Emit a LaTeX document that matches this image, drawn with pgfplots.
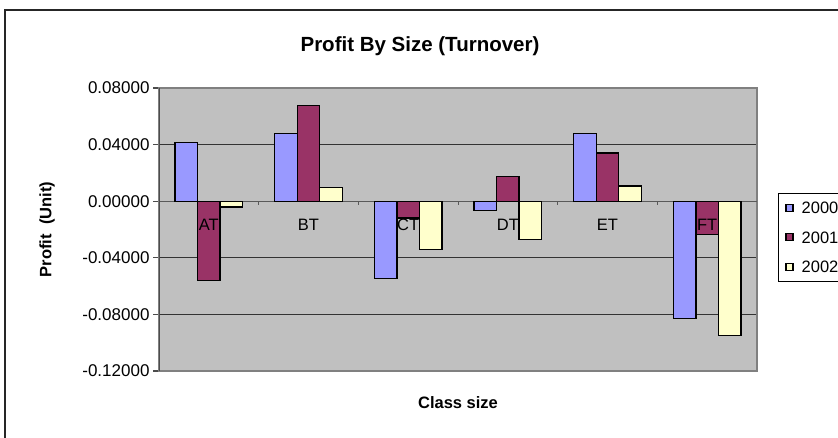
\documentclass[border=0pt]{standalone}
\usepackage{fontspec}
\setmainfont{Liberation Sans}
\usepackage{pgfplots}
\pgfplotsset{compat=1.18}
\definecolor{c2000}{HTML}{9999FF}
\definecolor{c2001}{HTML}{993366}
\definecolor{c2002}{HTML}{FFFFCC}
\definecolor{plotbg}{HTML}{C0C0C0}
\definecolor{edgegray}{HTML}{808080}

\begin{document}
\begin{tikzpicture}[x=1pt,y=1pt]
  \useasboundingbox (0,0) rectangle (838,437);
  % outer chart frame (runs off the right and bottom edges)
  \draw[line width=1.3pt, black!85] (5,-20) -- (5,427) -- (860,427);
  \node[font=\fontsize{20.5}{24}\selectfont\bfseries] at (420,391) {Profit By Size (Turnover)};
  \node[font=\fontsize{16.5}{19}\selectfont\bfseries, rotate=90] at (47,207.5) {Profit\ \ (Unit)};
  \node[font=\fontsize{16.5}{19}\selectfont\bfseries] at (458,34) {Class size};
  \begin{axis}[
    at={(159pt,66pt)}, anchor=south west,
    scale only axis, width=598pt, height=283pt,
    xmin=-0.5, xmax=5.5, ymin=-0.12, ymax=0.08,
    xtick=\empty,
    ytick={-0.12,-0.08,-0.04,0,0.04,0.08},
    yticklabels={-0.12000,-0.08000,-0.04000,0.00000,0.04000,0.08000},
    ytick pos=left, tick align=outside, major tick length=6pt,
    ytick style={draw=black!70, line width=1.2pt},
    yticklabel style={font=\fontsize{17}{20}\selectfont},
    /pgf/number format/assume math mode=true,
    ymajorgrids, grid style={draw=black!80, line width=1pt},
    axis background/.style={fill=plotbg},
    axis line style={draw=edgegray, line width=1.5pt},
    ybar=0pt, bar width=22.5pt,
    legend image code/.code={\draw[#1] (0pt,-3.5pt) rectangle (7pt,3.5pt);},
    legend style={at={(1.0351,0.629)}, anchor=north west, draw=black,
      line width=0.8pt, fill=white, inner xsep=7pt, inner ysep=8.5pt,
      row sep=17.7pt, column sep=8pt,
      font=\fontsize{16.5}{19}\selectfont,
      nodes={inner sep=0pt, text height=11.8pt, text depth=0pt}},
    legend cell align=left,
  ]
    \draw[black!65, line width=1.3pt] (axis cs:-0.5,0) -- (axis cs:5.5,0);
    \pgfplotsinvokeforeach{0.5,1.5,2.5,3.5,4.5}{
      \draw[black!65, line width=1pt] (axis cs:#1,0) -- ++(0pt,-4pt);}
    \draw[black!70, line width=1.8pt] (rel axis cs:0,0) -- (rel axis cs:0,1);
    \addplot[fill=c2000, draw=black, line width=1.3pt]
      coordinates {(0,0.0415) (1,0.048) (2,-0.0544) (3,-0.0066) (4,0.048) (5,-0.0828)};
    \addlegendentry{2000\hspace*{30pt}}
    \addplot[fill=c2001, draw=black, line width=1.3pt]
      coordinates {(0,-0.0558) (1,0.0676) (2,-0.0118) (3,0.0175) (4,0.034) (5,-0.0233)};
    \addlegendentry{2001\hspace*{30pt}}
    \node[font=\fontsize{16.5}{19}\selectfont, yshift=-24pt] at (axis cs:0,0) {AT};
    \node[font=\fontsize{16.5}{19}\selectfont, yshift=-24pt] at (axis cs:1,0) {BT};
    \node[font=\fontsize{16.5}{19}\selectfont, yshift=-24pt] at (axis cs:2,0) {CT};
    \node[font=\fontsize{16.5}{19}\selectfont, yshift=-24pt] at (axis cs:3,0) {DT};
    \node[font=\fontsize{16.5}{19}\selectfont, yshift=-24pt] at (axis cs:4,0) {ET};
    \node[font=\fontsize{16.5}{19}\selectfont, yshift=-24pt] at (axis cs:5,0) {FT};
    \addplot[fill=c2002, draw=black, line width=1.3pt]
      coordinates {(0,-0.0042) (1,0.0097) (2,-0.034) (3,-0.0273) (4,0.0108) (5,-0.0948)};
    \addlegendentry{2002\hspace*{30pt}}
  \end{axis}
\end{tikzpicture}
\end{document}
